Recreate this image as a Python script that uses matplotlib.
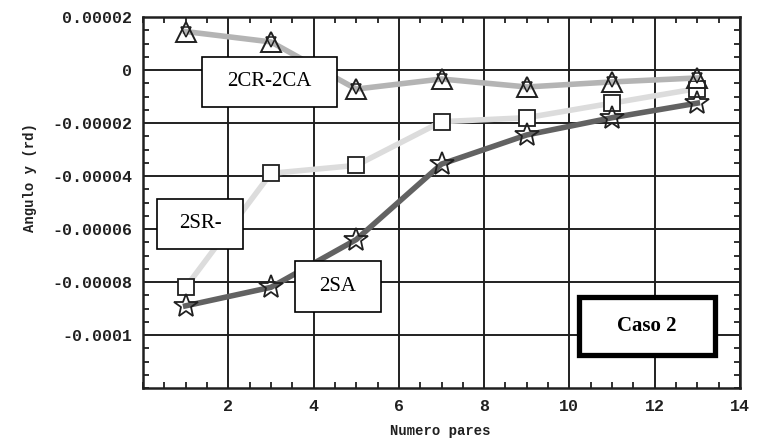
import matplotlib
matplotlib.use("Agg")
import matplotlib.pyplot as plt
from matplotlib.patches import Rectangle
from matplotlib.ticker import MultipleLocator, FixedLocator

x = [1, 3, 5, 7, 9, 11, 13]
cr_ca = [1.45e-5, 1.06e-5, -7.2e-6, -3.4e-6, -6.4e-6, -4.5e-6, -3.0e-6]
sr = [-8.2e-5, -3.9e-5, -3.6e-5, -1.95e-5, -1.8e-5, -1.25e-5, -7.0e-6]
sa = [-8.9e-5, -8.2e-5, -6.4e-5, -3.55e-5, -2.45e-5, -1.8e-5, -1.25e-5]

xticks = [2, 4, 6, 8, 10, 12, 14]
yticks = [2e-5, 0, -2e-5, -4e-5, -6e-5, -8e-5, -1e-4]
ytick_labels = ["0.00002", "0", "-0.00002", "-0.00004", "-0.00006", "-0.00008", "-0.0001"]

W, H = 757, 441
fig = plt.figure(figsize=(W / 100, H / 100), dpi=100)
ax = fig.add_axes([143 / W, 1 - 388 / H, (740 - 143) / W, (388 - 17) / H])

ax.set_xlim(0, 14)
ax.set_ylim(-1.2e-4, 2e-5)

ax.xaxis.set_major_locator(FixedLocator(xticks))
ax.xaxis.set_minor_locator(MultipleLocator(0.5))
ax.yaxis.set_major_locator(FixedLocator(yticks))
ax.yaxis.set_minor_locator(MultipleLocator(5e-6))
ax.set_xticklabels([str(v) for v in xticks])
ax.set_yticklabels(ytick_labels)

ax.grid(True, which="major", color="#202020", linewidth=1.4)
ax.set_axisbelow(True)
ax.tick_params(which="both", direction="in", top=True, right=True, color="#202020")
ax.tick_params(which="major", length=0, pad=8)
ax.tick_params(which="minor", length=4, width=1.3)
for lab in ax.get_xticklabels() + ax.get_yticklabels():
    lab.set_fontfamily("Liberation Mono")
    lab.set_fontweight("bold")
    lab.set_fontsize(12)
    lab.set_color("#202020")
for sp in ax.spines.values():
    sp.set_linewidth(1.8)
    sp.set_color("#202020")

ax.plot(x, sr, color="#dcdcdc", linewidth=4, zorder=3,
        marker="s", markersize=11, markerfacecolor="white",
        markeredgecolor="#202020", markeredgewidth=1.3)
ax.plot(x, cr_ca, color="#b4b4b4", linewidth=4, zorder=4,
        marker="^", markersize=15, markerfacecolor="none",
        markeredgecolor="#202020", markeredgewidth=1.4)
ax.plot(x, cr_ca, linestyle="none", zorder=4,
        marker="v", markersize=7, markerfacecolor="none",
        markeredgecolor="#202020", markeredgewidth=1.1)
ax.plot(x, sa, color="#626262", linewidth=4, zorder=5,
        marker="*", markersize=18, markerfacecolor="none",
        markeredgecolor="#202020", markeredgewidth=1.3)

fig.text(440 / W, 1 - 431 / H, "Numero pares", ha="center", va="center",
         fontfamily="Liberation Mono", fontweight="bold", fontsize=10, color="#202020")
fig.text(30 / W, 1 - 178 / H, "Angulo y (rd)", ha="center", va="center", rotation=90,
         fontfamily="Liberation Mono", fontweight="bold", fontsize=10, color="#202020")


def box(x0, y0, x1, y1, text, lw=1.2, bold=False, fs=15):
    r = Rectangle((x0 / W, 1 - y1 / H), (x1 - x0) / W, (y1 - y0) / H,
                  transform=fig.transFigure, facecolor="white",
                  edgecolor="black", linewidth=lw, zorder=10)
    fig.add_artist(r)
    fig.text((x0 + x1) / 2 / W, 1 - (y0 + y1) / 2 / H, text, ha="center", va="center",
             fontfamily="Liberation Serif", fontsize=fs,
             fontweight="bold" if bold else "normal", zorder=11)


box(202, 57, 337, 107, "2CR-2CA")
box(157, 199, 243, 249, "2SR-")
box(295, 261, 381, 312, "2SA")
box(579, 297, 715, 355, "Caso 2", lw=3.8, bold=True, fs=15)

fig.savefig("out.png", dpi=100)
